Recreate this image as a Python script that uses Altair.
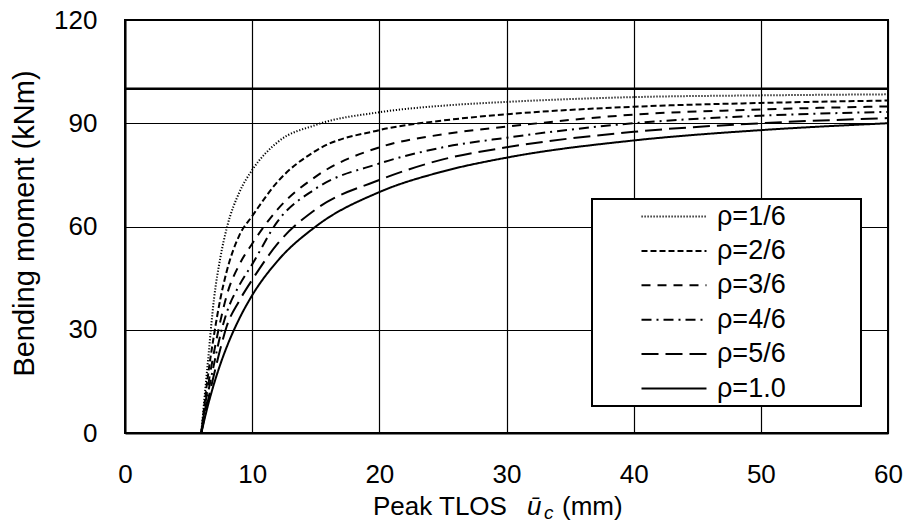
import altair as alt
import pandas as pd

# Peak TLOS u_c (mm) sample positions
u_mm = [6, 6.5, 7, 7.5, 8, 9, 10, 12, 15, 20, 25, 30, 40, 50, 60]

# Bending moment (kNm)
m_rho_1_6 = [0, 20, 39, 51, 59.5, 70, 76.4, 84.5, 89.5, 93.2, 95.1, 96.2, 97.6, 98.1, 98.4]
m_rho_2_6 = [0, 16, 28.5, 39, 47, 57.5, 63, 73, 82, 88, 90.8, 92.6, 94.8, 95.9, 96.6]
m_rho_3_6 = [0, 13, 23.5, 32.5, 40, 49, 55, 65, 74.5, 83, 86.8, 89, 92.5, 94, 94.9]
m_rho_4_6 = [0, 11, 20, 28.5, 35, 43, 49, 61.5, 71, 78.3, 83, 85.8, 90, 92.2, 93.3]
m_rho_5_6 = [0, 9, 17, 24.5, 31, 38.5, 44.5, 55, 65, 73.5, 79.5, 83, 87.5, 90, 91.5]
m_rho_1_0 = [0, 7.7, 14.3, 20, 25, 33.3, 40, 50, 60, 70, 76, 80, 85, 88, 90]

series_names = ["ρ=1/6", "ρ=2/6", "ρ=3/6", "ρ=4/6", "ρ=5/6", "ρ=1.0"]
series_values = [m_rho_1_6, m_rho_2_6, m_rho_3_6, m_rho_4_6, m_rho_5_6, m_rho_1_0]

# capacity line
limit_values = [100]

x_ticks = [0, 10, 20, 30, 40, 50, 60]
y_ticks = [0, 30, 60, 90, 120]

# styles
dash_patterns = [[1.2, 1.8], [6, 3], [9, 7], [10, 5, 2, 5], [17, 7], [1, 0]]
FONT = "Liberation Sans"

rows = []
for name, vals in zip(series_names, series_values):
    for u, m in zip(u_mm, vals):
        rows.append({"u": u, "M": m, "series": name})
df = pd.DataFrame(rows)

x_scale = alt.Scale(domain=[0, 60], nice=False, zero=False)
y_scale = alt.Scale(domain=[0, 120], nice=False)

x_axis = alt.Axis(
    values=x_ticks, grid=True, gridColor="black", gridWidth=1.2,
    domainColor="black", domainWidth=2, ticks=False, tickSize=0,
    labelFont=FONT, labelFontSize=26, labelColor="black", labelPadding=28,
    labelFlush=False, labelOverlap=False, title=None,
)
y_axis = alt.Axis(
    values=y_ticks, grid=True, gridColor="black", gridWidth=1.2,
    domainColor="black", domainWidth=2, ticks=False, tickSize=0,
    labelFont=FONT, labelFontSize=26, labelColor="black", labelPadding=28,
    labelFlush=False, labelOverlap=False,
    title="Bending moment (kNm)", titleFont=FONT, titleFontSize=29,
    titleFontWeight="normal", titleColor="black", titleAngle=270,
    titleBaseline="alphabetic", titleAlign="center", titleX=-92, titleY=203,
)

legend = alt.Legend(
    title=None, orient="none", legendX=467, legendY=179, direction="vertical",
    strokeColor="black", fillColor="white", padding=4,
    labelFont=FONT, labelFontSize=27, labelColor="black", labelBaseline="middle",
    symbolType="M0,0H8M26,0", symbolSize=264, symbolStrokeWidth=2,
    symbolStrokeColor="black", symbolFillColor="transparent",
    symbolOffset=32, labelOffset=62, rowPadding=6.4,
)

lines = alt.Chart(df).mark_line(
    color="black", strokeWidth=2, interpolate="monotone", clip=True
).encode(
    x=alt.X("u:Q", scale=x_scale, axis=x_axis),
    y=alt.Y("M:Q", scale=y_scale, axis=y_axis),
    strokeDash=alt.StrokeDash(
        "series:N",
        scale=alt.Scale(domain=series_names, range=dash_patterns),
        sort=series_names,
        legend=legend,
    ),
)

rule = alt.Chart(pd.DataFrame({"M": limit_values})).mark_rule(
    color="black", strokeWidth=2.5
).encode(y=alt.Y("M:Q", scale=y_scale))


def title_piece(text, x, y, size=26, style="normal"):
    return alt.Chart(pd.DataFrame({"t": [text]})).mark_text(
        align="left", baseline="alphabetic", font=FONT, fontSize=size,
        fontStyle=style, color="black",
    ).encode(text="t:N", x=alt.value(x), y=alt.value(y))


title_parts = [
    title_piece("Peak TLOS", 248, 495),
    title_piece("ū", 402, 495, style="italic"),
    title_piece("c", 419, 499, size=19, style="italic"),
    title_piece("(mm)", 437, 495),
]

chart = alt.layer(rule, lines, *title_parts).properties(
    width=763, height=413,
    padding={"left": 125, "top": 20, "right": 19, "bottom": 98},
    autosize=alt.AutoSizeParams(type="none"),
    background="white",
).configure_view(stroke="black", strokeWidth=2).configure_legend(strokeWidth=2)

chart.save("out.html", embed_options={"renderer": "svg", "actions": False})
